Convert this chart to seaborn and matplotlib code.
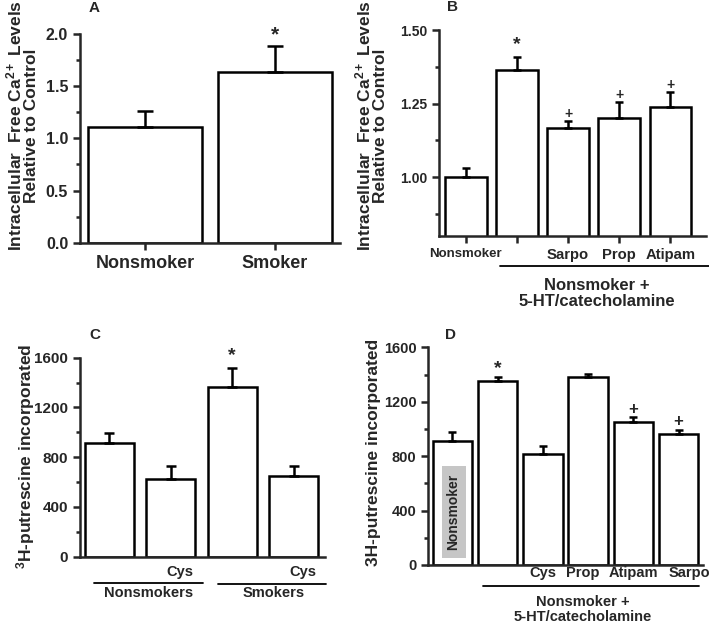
import numpy as np
import pandas as pd
import matplotlib
matplotlib.use("Agg")
import matplotlib.pyplot as plt
import seaborn as sns
from matplotlib.ticker import MultipleLocator
from matplotlib.patches import Rectangle

# ---------------- data ----------------
a_groups = ["Nonsmoker", "Smoker"]
a_means = [1.11, 1.64]
a_errs = [0.15, 0.245]
a_marks = ["", "*"]

b_groups = ["Nonsmoker", "5-HT/CA", "Sarpo", "Prop", "Atipam"]
b_ticklabels = ["Nonsmoker", "", "Sarpo", "Prop", "Atipam"]
b_means = [1.00, 1.364, 1.166, 1.201, 1.237]
b_errs = [0.03, 0.045, 0.026, 0.053, 0.052]
b_marks = ["", "*", "+", "+", "+"]

c_groups = ["Nonsmokers", "Nonsmokers+Cys", "Smokers", "Smokers+Cys"]
c_labels = ["", "Cys", "", "Cys"]
c_means = [912, 625, 1364, 646]
c_errs = [80, 104, 156, 83]
c_marks = ["", "", "*", ""]

d_groups = ["Nonsmoker", "5-HT/CA", "Cys", "Prop", "Atipam", "Sarpo"]
d_labels = ["", "", "Cys", "Prop", "Atipam", "Sarpo"]
d_means = [914, 1350, 814, 1384, 1053, 963]
d_errs = [66, 34, 61, 20, 32, 27]
d_marks = ["", "*", "", "", "+", "+"]

# ---------------- style ----------------
sns.set_style("ticks")
plt.rcParams["font.family"] = ["Liberation Sans", "DejaVu Sans"]
plt.rcParams["font.weight"] = "bold"
plt.rcParams["mathtext.fontset"] = "custom"
plt.rcParams["mathtext.rm"] = "Liberation Sans:bold"
plt.rcParams["mathtext.it"] = "Liberation Sans:bold"
plt.rcParams["mathtext.bf"] = "Liberation Sans:bold"

W, H = 709, 631
fig = plt.figure(figsize=(W / 100, H / 100), dpi=100)


def axes_px(left, top, right, bottom):
    return fig.add_axes([left / W, 1 - bottom / H, (right - left) / W, (bottom - top) / H])


LW = 1.8


def draw_bars(ax, groups, means, errs, width, capsize, marks, mark_sizes, mark_off):
    df = pd.DataFrame({"group": groups, "value": means})
    sns.barplot(data=df, x="group", y="value", order=groups, ax=ax, color="white",
                edgecolor="black", linewidth=LW, width=width, saturation=1,
                errorbar=None)
    x = np.arange(len(groups))
    ax.errorbar(x, means, yerr=[np.zeros(len(errs)), errs], fmt="none",
                ecolor="black", elinewidth=LW, capsize=capsize, capthick=LW)
    for xi, m, e, mk in zip(x, means, errs, marks):
        if mk:
            ax.annotate(mk, (xi, m + e), xytext=(0, mark_off[mk]),
                        textcoords="offset points", ha="center", va="center",
                        fontsize=mark_sizes[mk], fontweight="bold")
    for s in ["top", "right"]:
        ax.spines[s].set_visible(False)
    for s in ["left", "bottom"]:
        ax.spines[s].set_linewidth(LW)
    ax.set_xlabel("")
    ax.set_ylabel("")
    ax.tick_params(axis="both", which="major", length=5, width=LW, direction="out")
    ax.tick_params(axis="y", which="minor", length=3, width=LW, direction="out")


# ---------------- Panel A ----------------
axA = axes_px(80, 34, 340, 242.7)
draw_bars(axA, a_groups, a_means, a_errs, 0.87, 6, a_marks,
          {"*": 15}, {"*": 8})
axA.set_xlim(-0.5, 1.5)
axA.set_ylim(0, 2.0)
axA.yaxis.set_minor_locator(MultipleLocator(0.25))
axA.set_yticks([0, 0.5, 1.0, 1.5, 2.0], ["0.0", "0.5", "1.0", "1.5", "2.0"],
               fontsize=11.5, fontweight="bold")
axA.set_xticks([0, 1], a_groups, fontsize=13, fontweight="bold")

# ---------------- Panel B ----------------
axB = axes_px(439.3, 30, 706, 236)
draw_bars(axB, b_groups, b_means, b_errs, 0.81, 3.2, b_marks,
          {"*": 14, "+": 10}, {"*": 9, "+": 5})
axB.set_xlim(-0.52, 4.7)
axB.set_ylim(0.8, 1.5)
axB.set_yticks([1.0, 1.25, 1.5], ["1.00", "1.25", "1.50"], fontsize=10, fontweight="bold")
axB.yaxis.set_minor_locator(MultipleLocator(0.125))
axB.set_xticks(range(len(b_groups)), b_ticklabels, fontweight="bold")
for i, t in enumerate(axB.get_xticklabels()):
    t.set_fontsize(9.5 if i == 0 else 10.7)
tB = axB.get_xaxis_transform()
axB.plot([0.67, 4.75], [-0.144, -0.144], transform=tB, color="black", lw=1.3, clip_on=False)
axB.text(2.56, -0.238, "Nonsmoker +", transform=tB, ha="center", va="center",
         fontsize=12, fontweight="bold")
axB.text(2.56, -0.319, "5-HT/catecholamine", transform=tB, ha="center", va="center",
         fontsize=12, fontweight="bold")

# ---------------- Panel C ----------------
axC = axes_px(80, 357.7, 325, 556.7)
draw_bars(axC, c_groups, c_means, c_errs, 0.8, 3.6, c_marks,
          {"*": 14}, {"*": 9})
axC.set_xlim(-0.48, 3.51)
axC.set_ylim(0, 1600)
axC.set_yticks([0, 400, 800, 1200, 1600], ["0", "400", "800", "1200", "1600"],
               fontsize=11, fontweight="bold")
axC.yaxis.set_minor_locator(MultipleLocator(200))
axC.set_xticks([])
tC = axC.get_xaxis_transform()
for i, lab in enumerate(c_labels):
    if lab:
        axC.text(i + 0.15, -0.075, lab, transform=tC, ha="center", va="center",
                 fontsize=10.5, fontweight="bold")
axC.plot([-0.25, 1.52], [-0.13, -0.13], transform=tC, color="black", lw=1.3, clip_on=False)
axC.plot([1.77, 3.53], [-0.137, -0.137], transform=tC, color="black", lw=1.3, clip_on=False)
axC.text(0.63, -0.18, "Nonsmokers", transform=tC, ha="center", va="center",
         fontsize=10.5, fontweight="bold")
axC.text(2.68, -0.18, "Smokers", transform=tC, ha="center", va="center",
         fontsize=10.5, fontweight="bold")

# ---------------- Panel D ----------------
axD = axes_px(428.3, 347.3, 703, 565)
draw_bars(axD, d_groups, d_means, d_errs, 0.87, 3, d_marks,
          {"*": 14, "+": 12}, {"*": 6, "+": 6})
axD.set_xlim(-0.535, 5.54)
axD.set_ylim(0, 1600)
axD.set_yticks([0, 400, 800, 1200, 1600], ["0", "400", "800", "1200", "1600"],
               fontsize=10.5, fontweight="bold")
axD.yaxis.set_minor_locator(MultipleLocator(200))
axD.set_xticks([])
tD = axD.get_xaxis_transform()
d_label_shift = [0, 0, 0, -0.12, 0, 0.23]
for i, lab in enumerate(d_labels):
    if lab:
        axD.text(i + d_label_shift[i], -0.038, lab, transform=tD, ha="center", va="center",
                 fontsize=10.5, fontweight="bold")
axD.plot([0.68, 5.45], [-0.096, -0.096], transform=tD, color="black", lw=1.3, clip_on=False)
axD.text(2.88, -0.169, "Nonsmoker +", transform=tD, ha="center", va="center",
         fontsize=10.5, fontweight="bold")
axD.text(2.88, -0.237, "5-HT/catecholamine", transform=tD, ha="center", va="center",
         fontsize=10.5, fontweight="bold")
axD.add_patch(Rectangle((-0.24, 49), 0.53, 681, facecolor="#c6c6c6", edgecolor="none", zorder=3))
axD.text(0.025, 390, "Nonsmoker", rotation=90, ha="center", va="center",
         fontsize=10, fontweight="bold", zorder=4)

# ---------------- y labels & panel letters ----------------
ylab_ca = "Intracellular  Free Ca$^{2+}$ Levels\nRelative to Control"
fig.text(22 / W, 1 - 126 / H, ylab_ca, rotation=90, ha="center", va="center",
         fontsize=12.5, fontweight="bold", multialignment="center", linespacing=1.0)
fig.text(371 / W, 1 - 126 / H, ylab_ca, rotation=90, ha="center", va="center",
         fontsize=12.5, fontweight="bold", multialignment="center", linespacing=1.0)
fig.text(26 / W, 1 - 456 / H, "$^{3}$H-putrescine incorporated", rotation=90,
         ha="center", va="center", fontsize=12.5, fontweight="bold")
fig.text(374 / W, 1 - 452 / H, "3H-putrescine incorporated", rotation=90,
         ha="center", va="center", fontsize=12.5, fontweight="bold")

for lab, x, y in [("A", 94, 8), ("B", 452, 7), ("C", 95, 335), ("D", 450, 335)]:
    fig.text(x / W, 1 - y / H, lab, ha="center", va="center", fontsize=11, fontweight="bold")

fig.savefig("out.png", dpi=100)
